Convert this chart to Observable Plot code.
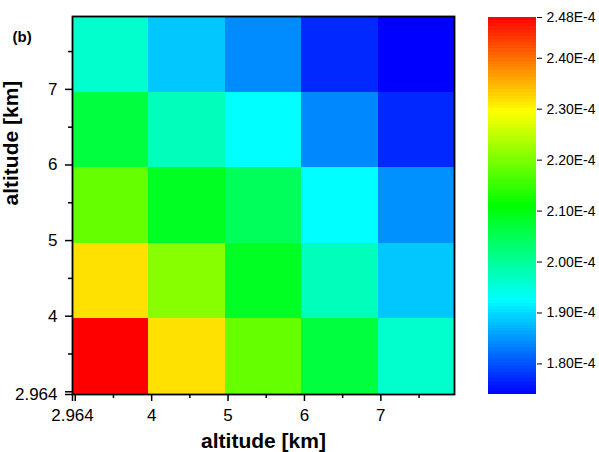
<!DOCTYPE html>
<html><head><meta charset="utf-8">
<script src="https://cdn.jsdelivr.net/npm/d3@7"></script>
<script src="https://cdn.jsdelivr.net/npm/@observablehq/plot@0.6"></script>
<style>
html,body{margin:0;padding:0;background:#fff;}
#chart{position:relative;width:599px;height:452px;font-family:"Liberation Sans",Arial,sans-serif;}
#chart svg{position:absolute;top:0;}
</style></head><body><div id="chart"></div>
<script>
// cell edges (km)
const xEdges = [2.964, 3.964, 4.964, 5.964, 6.964, 7.964];
const yEdges = [2.964, 3.964, 4.964, 5.964, 6.964, 7.964];
// rows from bottom (altitude 2.964–3.964) to top
const row1 = [2.480e-4, 2.317e-4, 2.184e-4, 2.064e-4, 1.962e-4];
const row2 = [2.317e-4, 2.209e-4, 2.085e-4, 1.975e-4, 1.885e-4];
const row3 = [2.184e-4, 2.085e-4, 2.045e-4, 1.925e-4, 1.845e-4];
const row4 = [2.064e-4, 1.975e-4, 1.925e-4, 1.839e-4, 1.769e-4];
const row5 = [1.962e-4, 1.885e-4, 1.841e-4, 1.769e-4, 1.740e-4];
const rows = [row1, row2, row3, row4, row5];

const axisTicks = [2.964, 3, 4, 5, 6, 7];
const axisTickLabels = ["2.964", "", "4", "5", "6", "7"];
const minorTicks = [3.5, 4.5, 5.5, 6.5, 7.5];
const colorStops = [1.74e-4, 1.925e-4, 2.11e-4, 2.295e-4, 2.48e-4];
const colorRange = ["#0000ff", "#00ffff", "#00ff00", "#ffff00", "#ff0000"];
const barTicks = [2.48e-4, 2.40e-4, 2.30e-4, 2.20e-4, 2.10e-4, 2.00e-4, 1.90e-4, 1.80e-4];
const axisTitle = "altitude [km]";
const panelLabel = "(b)";

const cells = [];
rows.forEach((row, j) => row.forEach((v, i) => cells.push({
  x1: xEdges[i], x2: xEdges[i + 1], y1: yEdges[j], y2: yEdges[j + 1], v
})));

const color = {type: "linear", domain: colorStops, range: colorRange, interpolate: "rgb"};
const fmt = d => axisTickLabels[axisTicks.indexOf(d)];
const font = "'Liberation Sans', Arial, sans-serif";

const main = Plot.plot({
  width: 470, height: 452,
  marginLeft: 72, marginRight: 16, marginTop: 16, marginBottom: 58,
  style: {fontFamily: font, fontSize: "17px", color: "#000", background: "transparent", overflow: "visible"},
  x: {domain: [2.964, 7.964], label: null},
  y: {domain: [2.964, 7.964], label: null},
  color,
  marks: [
    Plot.rect(cells, {x1: "x1", x2: "x2", y1: "y1", y2: "y2", fill: "v", shapeRendering: "crispEdges"}),
    Plot.frame({stroke: "#000", strokeWidth: 1.8}),
    Plot.axisX(axisTicks, {tickSize: 7, tickPadding: 7, tickFormat: fmt, strokeWidth: 1.5, fontSize: 17, label: null}),
    Plot.axisX(minorTicks, {tickSize: 4, tickFormat: () => "", strokeWidth: 1.5, label: null}),
    Plot.axisY(axisTicks, {tickSize: 7, tickPadding: 8, tickFormat: fmt, strokeWidth: 1.5, fontSize: 17, label: null}),
    Plot.axisY(minorTicks, {tickSize: 4, tickFormat: () => "", strokeWidth: 1.5, label: null}),
    Plot.text([axisTitle], {frameAnchor: "bottom", dy: 47, lineAnchor: "middle", fontSize: 21, fontWeight: "bold", text: d => d}),
    Plot.text([axisTitle], {frameAnchor: "left", dx: -61, lineAnchor: "middle", rotate: -90, fontSize: 21, fontWeight: "bold", text: d => d}),
    Plot.text([panelLabel], {frameAnchor: "top-left", dx: -60, dy: 21, lineAnchor: "middle", textAnchor: "start", fontSize: 15, fontWeight: "bold", text: d => d})
  ]
});

const N = 120;
const lo = colorStops[0], hi = colorStops[colorStops.length - 1];
const steps = d3.range(N).map(k => ({
  y1: lo + (hi - lo) * k / N, y2: lo + (hi - lo) * (k + 1) / N, v: lo + (hi - lo) * (k + 0.5) / N
}));
const bar = Plot.plot({
  width: 129, height: 452,
  marginLeft: 18, marginRight: 63, marginTop: 17, marginBottom: 58,
  style: {fontFamily: font, fontSize: "14px", color: "#000", background: "transparent", overflow: "visible"},
  y: {domain: [lo, hi], label: null},
  color,
  marks: [
    Plot.rect(steps, {y1: "y1", y2: "y2", fill: "v", shapeRendering: "crispEdges"}),
    Plot.axisY(barTicks, {anchor: "right", tickSize: 5, tickPadding: 5, strokeWidth: 1, fontSize: 14,
      tickFormat: d => (d * 1e4).toFixed(2) + "E-4", label: null})
  ]
});
main.style.left = "0px";
bar.style.left = "470px";
document.getElementById("chart").append(main, bar);
</script></body></html>
